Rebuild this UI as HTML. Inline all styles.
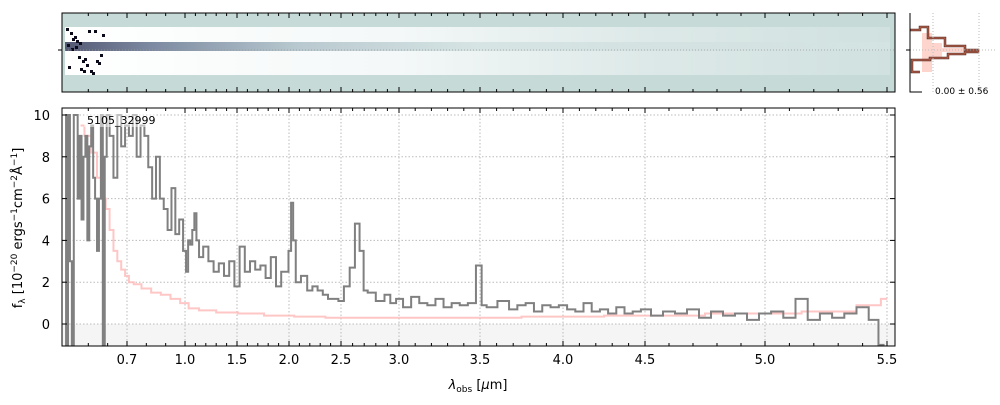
<!DOCTYPE html>
<html><head><meta charset="utf-8"><style>
body{margin:0;background:#fff;font-family:"Liberation Sans","DejaVu Sans",sans-serif}
svg text{font-family:"DejaVu Sans","Liberation Sans",sans-serif}
</style></head><body>
<svg id="chart" width="1000" height="400" viewBox="0 0 1000 400" xmlns="http://www.w3.org/2000/svg">
<defs>
<linearGradient id="band" x1="0" x2="1" y1="0" y2="0">
<stop offset="0" stop-color="#2a3050"/><stop offset="0.1" stop-color="#5a6a88"/><stop offset="0.28" stop-color="#a8bcc4"/><stop offset="0.5" stop-color="#d0e0df"/><stop offset="1" stop-color="#d4e4e2"/>
</linearGradient>
<linearGradient id="white" x1="0" x2="1" y1="0" y2="0">
<stop offset="0" stop-color="#ffffff"/><stop offset="0.4" stop-color="#f4f8f8"/><stop offset="0.7" stop-color="#dde9e8"/><stop offset="1" stop-color="#d0e1df"/>
</linearGradient>
</defs>
<g id="top-panel">
<rect x="62" y="13" width="833" height="79" fill="#c6dad8" stroke="#000"/>
<rect x="65" y="27" width="825" height="48" fill="url(#white)"/>
<rect x="65" y="42" width="825" height="9" fill="url(#band)" opacity="0.8"/>
<g id="specks"></g>
<line x1="62" y1="50" x2="895" y2="50" stroke="#999" stroke-dasharray="1,2" stroke-width="0.7"/>
</g>
<g id="hist-panel">
<polygon points="922,33 932,33 932,43 942,43 942,48 965,48 965,52 942,52 942,58 932,58 932,72 922,72" fill="#fdd5cc"/>
<polyline points="910,30 920,30 920,27 928,27 928,38 945,38 945,46 965,46 965,50 978,50 978,52 965,52 965,54 948,54 948,58 930,58 930,60 912,60 912,72 920,72" fill="none" stroke="#5a3028" stroke-width="2.5"/>
<polyline points="910,30 920,30 920,27 928,27 928,38 945,38 945,46 965,46 965,50 978,50 978,52 965,52 965,54 948,54 948,58 930,58 930,60 912,60 912,72 920,72" fill="none" stroke="#c8684e" stroke-width="1"/>
<line x1="933" y1="13" x2="933" y2="92" stroke="#bbb" stroke-dasharray="1,2"/>
<line x1="979" y1="13" x2="979" y2="92" stroke="#bbb" stroke-dasharray="1,2"/>
<line x1="910" y1="50" x2="995" y2="50" stroke="#bbb" stroke-dasharray="1,2"/>
<polyline points="910,13 910,92 922,92" fill="none" stroke="#000"/>
<line x1="906" y1="50" x2="910" y2="50" stroke="#000"/>
<text x="935" y="94" font-size="9">0.00 ± 0.56</text>
</g>
<g id="main"></g>
<text x="478" y="389" font-size="13" text-anchor="middle"><tspan font-style="italic">λ</tspan><tspan font-size="9" dy="3">obs</tspan><tspan dy="-3"> [</tspan><tspan font-style="italic">μ</tspan>m]</text>
<text transform="translate(22,228) rotate(-90)" font-size="13" text-anchor="middle">f<tspan font-size="9" dy="3">λ</tspan><tspan dy="-3"> [10</tspan><tspan font-size="9" dy="-5">−20</tspan><tspan dy="5"> ergs</tspan><tspan font-size="9" dy="-5">−1</tspan><tspan dy="5">cm</tspan><tspan font-size="9" dy="-5">−2</tspan><tspan dy="5">Å</tspan><tspan font-size="9" dy="-5">−1</tspan><tspan dy="5">]</tspan></text>
</svg>
<script>
const tickWave=[0.7,1.0,1.5,2.0,2.5,3.0,3.5,4.0,4.5,5.0,5.5];
const tickLabels=["0.7","1.0","1.5","2.0","2.5","3.0","3.5","4.0","4.5","5.0","5.5"];
const yTicks=[0,2,4,6,8,10];
const wave=[0.38,0.39,0.40,0.41,0.42,0.43,0.44,0.45,0.46,0.47,0.48,0.49,0.50,0.51,0.52,0.53,0.54,0.55,0.56,0.57,0.58,0.59,0.60,0.62,0.64,0.66,0.68,0.70,0.72,0.74,0.76,0.78,0.80,0.82,0.84,0.86,0.88,0.90,0.92,0.94,0.96,0.98,1.0,1.02,1.04,1.06,1.08,1.10,1.12,1.15,1.20,1.25,1.3,1.35,1.4,1.45,1.5,1.55,1.6,1.65,1.7,1.75,1.8,1.85,1.9,1.95,1.98,2.01,2.03,2.05,2.08,2.15,2.2,2.25,2.3,2.35,2.4,2.45,2.5,2.55,2.6,2.64,2.68,2.71,2.75,2.85,2.9,2.95,3.0,3.05,3.1,3.15,3.2,3.25,3.3,3.35,3.4,3.45,3.5,3.52,3.56,3.65,3.7,3.75,3.8,3.85,3.9,3.95,4.0,4.05,4.1,4.15,4.2,4.25,4.3,4.35,4.4,4.45,4.5,4.55,4.6,4.65,4.7,4.75,4.8,4.85,4.9,4.95,5.0,5.05,5.1,5.15,5.2,5.25,5.3,5.35,5.4,5.45,5.48,5.5];
const flux=[10,-1,10,3,-1,10,10,6,9,5,8,9,4,8.5,9.5,7,6,3.5,6,10,-1,8,10,9,7,10,8.5,9.5,9,10,8,9.5,9,7.5,6,8,6,5.5,4.5,6.5,4.3,5,3.5,2.5,4,3.8,4.5,5.3,4,3.2,3.7,3,2.5,2.9,2.3,3.0,1.8,3.7,2.5,3.0,2.6,2.8,2.2,3.2,1.8,2.5,2.5,3.5,5.8,4.0,2.0,2.3,1.6,1.8,1.6,1.4,1.2,1.2,1.1,1.8,2.7,4.8,3.5,1.6,1.5,1.1,1.4,1.0,1.2,0.8,1.3,1.0,0.9,1.2,0.8,1.0,0.9,1.0,2.8,0.9,0.8,1.1,0.7,0.9,1.0,0.6,0.9,0.8,0.9,0.7,0.6,1.0,0.6,0.7,0.5,0.8,0.5,0.6,0.7,0.4,0.6,0.5,0.7,0.3,0.6,0.4,0.5,0.2,0.5,0.6,0.3,1.2,0.2,0.5,0.3,0.5,0.8,0.2,-1];
const errWave=[0.46,0.50,0.53,0.56,0.58,0.60,0.62,0.64,0.66,0.68,0.70,0.72,0.75,0.80,0.85,0.90,0.95,1.0,1.07,1.2,1.4,1.62,1.9,2.2,2.5,3.0,3.5,4.0,4.5,5.0,5.3,5.45,5.5];
const errFlux=[9.5,9.0,8.2,7.0,6.0,5.5,4.5,3.5,3.0,2.6,2.3,2.0,1.9,1.7,1.5,1.4,1.2,1.0,0.75,0.65,0.55,0.5,0.4,0.35,0.3,0.3,0.3,0.35,0.4,0.5,0.6,0.9,1.2];
const NS="http://www.w3.org/2000/svg";
const L=62,R=895,T=108,B=346;
const anchW=[0.364,0.7,1.0,1.5,2.0,2.5,3.0,3.5,4.0,4.5,5.0,5.5,5.54];
const anchP=[62,127,185,237,289,341,399,480,563,645,765,887,895];
function X(w){for(let i=0;i<anchW.length-1;i++){if(w<=anchW[i+1]||i==anchW.length-2){return anchP[i]+(w-anchW[i])*(anchP[i+1]-anchP[i])/(anchW[i+1]-anchW[i]);}}}
function Y(v){return 324-v*20.9;}
function cy(v){return Math.max(T,Math.min(B,Y(v)));}
const g=document.getElementById('main');
function el(t,a,p){const e=document.createElementNS(NS,t);for(const k in a)e.setAttribute(k,a[k]);(p||g).appendChild(e);return e;}
el('rect',{x:L,y:Y(0),width:R-L,height:B-Y(0),fill:'#f5f5f5'});
tickWave.forEach(w=>{const l=el('line',{x1:X(w),x2:X(w),y1:T,y2:B,stroke:'#bbb','stroke-dasharray':'1.5,2'});});
yTicks.forEach(v=>{const l=el('line',{x1:L,x2:R,y1:Y(v),y2:Y(v),stroke:'#bbb','stroke-dasharray':'1.5,2'});});
function steps(ws,fs){let d='';for(let i=0;i<ws.length;i++){const x0=i==0?X(ws[0]):(X(ws[i-1])+X(ws[i]))/2;const x1=i==ws.length-1?X(ws[i]):(X(ws[i])+X(ws[i+1]))/2;const y=cy(fs[i]);d+=(i==0?'M':'L')+x0+','+y+'L'+x1+','+y;}return d;}
const ep=el('path',{d:steps(errWave,errFlux),fill:'none',stroke:'#ffb8b8','stroke-width':2,opacity:0.8});


const fp=el('path',{d:steps(wave,flux),fill:'none',stroke:'#808080','stroke-width':2});


el('rect',{x:84,y:113,width:72,height:14,fill:'#fff',opacity:0.5});
const lbl=el('text',{x:87,y:124,'font-size':11});lbl.textContent='5105_32999';


el('rect',{x:L,y:T,width:R-L,height:B-T,fill:'none',stroke:'#000'});
tickWave.forEach((w,i)=>{const x=X(w);
el('line',{x1:x,x2:x,y1:B,y2:B-5,stroke:'#000'});el('line',{x1:x,x2:x,y1:T,y2:T+5,stroke:'#000'});
el('line',{x1:x,x2:x,y1:92,y2:87,stroke:'#000'});el('line',{x1:x,x2:x,y1:13,y2:18,stroke:'#000'});
const t=el('text',{x:x,y:364,'font-size':13,'text-anchor':'middle'});t.textContent=tickLabels[i];

});
for(let k=5;k<=55;k++){const w=k/10;if(tickWave.some(v=>Math.abs(v-w)<1e-6))continue;const x=X(w);if(x<L||x>R)continue;
el('line',{x1:x,x2:x,y1:B,y2:B-3,stroke:'#000'});el('line',{x1:x,x2:x,y1:T,y2:T+3,stroke:'#000'});
el('line',{x1:x,x2:x,y1:92,y2:89,stroke:'#000'});el('line',{x1:x,x2:x,y1:13,y2:16,stroke:'#000'});}
yTicks.forEach(v=>{const y=Y(v);el('line',{x1:L,x2:L+5,y1:y,y2:y,stroke:'#000'});el('line',{x1:R,x2:R-5,y1:y,y2:y,stroke:'#000'});
const t=el('text',{x:50,y:y+5,'font-size':13,'text-anchor':'end'});t.textContent=v;

});
el('line',{x1:58,x2:62,y1:50,y2:50,stroke:'#000'});
const sp=document.getElementById('specks');
const speckX=[66,70,74,78,82,86,90,94,98,102,68,76,84,92,100,72,80,88,96,67,71,75,79,83];
const speckY=[28,32,36,56,60,64,70,30,62,34,66,40,58,72,54,38,68,30,60,44,48,46,42,70];
speckX.forEach((x,i)=>{el('rect',{x:x,y:speckY[i],width:3,height:3,fill:'#0a0a1a'},sp);});
</script>
</body></html>
